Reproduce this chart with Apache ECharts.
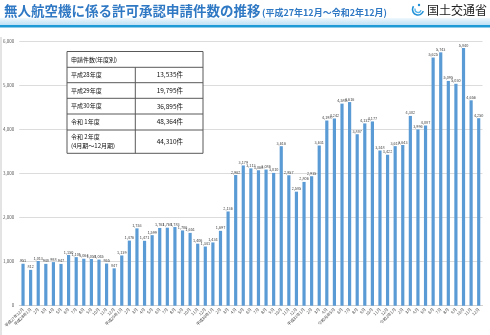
<!DOCTYPE html>
<html><head><meta charset="utf-8">
<script src="https://cdn.jsdelivr.net/npm/echarts@6/dist/echarts.min.js"></script>
<style>html,body{margin:0;padding:0;background:#fff}#c{width:490px;height:335px}</style>
</head><body><div id="c"></div>
<script>
const months = ['2015-12','2016-01','2016-02','2016-03','2016-04','2016-05','2016-06','2016-07','2016-08','2016-09','2016-10','2016-11','2016-12',
'2017-01','2017-02','2017-03','2017-04','2017-05','2017-06','2017-07','2017-08','2017-09','2017-10','2017-11','2017-12',
'2018-01','2018-02','2018-03','2018-04','2018-05','2018-06','2018-07','2018-08','2018-09','2018-10','2018-11','2018-12',
'2019-01','2019-02','2019-03','2019-04','2019-05','2019-06','2019-07','2019-08','2019-09','2019-10','2019-11','2019-12',
'2020-01','2020-02','2020-03','2020-04','2020-05','2020-06','2020-07','2020-08','2020-09','2020-10','2020-11','2020-12'];
const tickLabels = ['平成27年12月','平成28年1月','2月','3月','4月','5月','6月','7月','8月','9月','10月','11月','12月',
'平成29年1月','2月','3月','4月','5月','6月','7月','8月','9月','10月','11月','12月',
'平成30年1月','2月','3月','4月','5月','6月','7月','8月','9月','10月','11月','12月',
'平成31年1月','2月','3月','4月','令和元年5月','6月','7月','8月','9月','10月','11月','12月',
'令和2年1月','2月','3月','4月','5月','6月','7月','8月','9月','10月','11月','12月'];
const applications = [951,812,1013,948,988,947,1150,1101,1064,1058,1045,955,847,
1139,1476,1753,1471,1599,1763,1768,1783,1706,1651,1406,1341,
1434,1697,2136,2962,3179,3113,3068,3086,3010,3616,2957,2585,
2806,2935,3631,4198,4242,4580,4616,3887,4132,4177,3518,3422,
3617,3643,4302,3996,4087,5625,5743,5095,5030,5840,4656,4250];
const yTicks = [0,1000,2000,3000,4000,5000,6000];
const tableTitle = '申請件数(年度別)';
const tableYears = ['平成28年度','平成29年度','平成30年度','令和 1年度','令和 2年度\n(4月期～12月期)'];
const tableCounts = ['13,535件','19,795件','36,895件','48,364件','44,310件'];
const titleMain = '無人航空機に係る許可承認申請件数の推移';
const titleSub = '(平成27年12月～令和2年12月)';
const ministry = '国土交通省';

const FONT = '"Noto Sans CJK JP", "Noto Sans", sans-serif';
const chart = echarts.init(document.getElementById('c'));

const tblL = 67, tblR = 203, colX = 135.3;
const rowY = [51.5, 67.3, 82.7, 98.3, 114, 130, 153.3];
const g = [];
g.push({type:'rect', shape:{x:tblL, y:rowY[0], width:tblR-tblL, height:rowY[6]-rowY[0]}, style:{fill:'#fff', stroke:'#595959', lineWidth:1}, z:10});
for (let i=1;i<6;i++) g.push({type:'line', shape:{x1:tblL,y1:rowY[i],x2:tblR,y2:rowY[i]}, style:{stroke:'#595959',lineWidth:1}, z:11});
g.push({type:'line', shape:{x1:colX,y1:rowY[1],x2:colX,y2:rowY[6]}, style:{stroke:'#595959',lineWidth:1}, z:11});
g.push({type:'text', x:tblL+4, y:(rowY[0]+rowY[1])/2, style:{text:tableTitle, font:'6px '+FONT, fill:'#111', verticalAlign:'middle'}, z:12});
tableYears.forEach((t,i)=>{
  const cy = (rowY[i+1]+rowY[i+2])/2;
  g.push({type:'text', x:tblL+4, y:cy, style:{text:t, font:'6px '+FONT, fill:'#111', verticalAlign:'middle', lineHeight:9}, z:12});
  g.push({type:'text', x:183, y:cy, style:{text:tableCounts[i], font:'6.5px '+FONT, fill:'#111', align:'right', verticalAlign:'middle'}, z:12});
});
g.push({type:'rect', shape:{x:0,y:18,width:490,height:7}, style:{fill:new echarts.graphic.LinearGradient(0,0,0,1,[{offset:0,color:'#eef7fd'},{offset:1,color:'#bfe0f4'}])}, z:1});
g.push({type:'rect', shape:{x:0,y:25,width:490,height:2.5}, style:{fill:'#1f9ad6'}, z:1});
g.push({type:'text', x:4, y:17.5, style:{text:titleMain, font:'bold 13.5px '+FONT, fill:'#2f78c4', verticalAlign:'bottom', stroke:'#fff', lineWidth:1}, z:5});
g.push({type:'text', x:262, y:17.5, style:{text:titleSub, font:'bold 9px '+FONT, fill:'#2f78c4', verticalAlign:'bottom'}, z:5});
g.push({type:'arc', shape:{cx:418,cy:9.5,r:5.5,startAngle:0.3,endAngle:Math.PI*1.2}, style:{stroke:'#1f8fd6',lineWidth:1.6,fill:null}, z:5});
g.push({type:'arc', shape:{cx:418,cy:9.5,r:3,startAngle:0.2,endAngle:Math.PI*1.1}, style:{stroke:'#56b4ea',lineWidth:1.3,fill:null}, z:5});
g.push({type:'circle', shape:{cx:419,cy:5,r:1.2}, style:{fill:'#1f8fd6'}, z:5});
g.push({type:'text', x:427, y:10, style:{text:ministry, font:'12px '+FONT, fill:'#222', verticalAlign:'middle'}, z:5});
g.push({type:'line', shape:{x1:1,y1:37,x2:1,y2:335}, style:{stroke:'#c8c8c8',lineWidth:1}, z:1});

chart.setOption({
  animation:false,
  grid:{left:18.9, right:7.5, top:41, bottom:29.3, containLabel:false},
  xAxis:{type:'category', data:months,
    axisTick:{show:false},
    axisLine:{lineStyle:{color:'#d0d0d0'}},
    axisLabel:{interval:0, rotate:45, fontSize:4, color:'#404040', margin:3, fontFamily:FONT,
      formatter:(v,i)=>tickLabels[i]}},
  yAxis:{type:'value', min:yTicks[0], max:yTicks[yTicks.length-1], interval:1000,
    axisLabel:{fontSize:4.5, color:'#595959', margin:5, fontFamily:FONT,
      formatter:v=>v.toLocaleString('en-US')},
    splitLine:{lineStyle:{color:'#dcdcdc'}}, axisLine:{show:false}, axisTick:{show:false}},
  series:[{type:'bar', data:applications, barWidth:'42%',
    itemStyle:{color:'#5b9bd5'},
    label:{show:true, position:'top', distance:1, fontSize:3.8, color:'#404040', fontFamily:FONT,
      formatter:p=>p.value.toLocaleString('en-US')}}],
  graphic:g
});
</script></body></html>
